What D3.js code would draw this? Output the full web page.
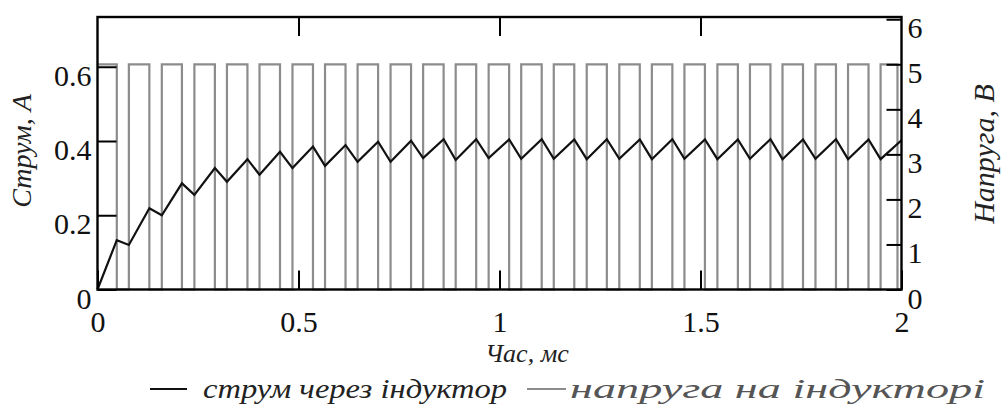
<!DOCTYPE html>
<html>
<head>
<meta charset="utf-8">
<script src="https://cdnjs.cloudflare.com/ajax/libs/d3/7.8.5/d3.min.js"></script>
<style>
    body { margin: 0; background: #fff; }
    svg { display: block; }
</style>
</head>
<body>
<svg id="renderer" width="1002" height="409"></svg>
<script>
// напруга на індукторі: моменти перемикань (мс) і рівні (В)
const voltT = [0, 0.048, 0.078, 0.129, 0.160, 0.210, 0.241, 0.292, 0.322, 0.373, 0.403,
    0.454, 0.485, 0.536, 0.566, 0.617, 0.647, 0.698, 0.729, 0.780, 0.810,
    0.861, 0.891, 0.942, 0.973, 1.024, 1.054, 1.105, 1.135, 1.186, 1.217,
    1.267, 1.298, 1.349, 1.379, 1.430, 1.460, 1.511, 1.542, 1.593, 1.623,
    1.674, 1.704, 1.755, 1.786, 1.837, 1.867, 1.918, 1.948, 1.990, 2.0];
const voltV = [5, 0, 5, 0, 5, 0, 5, 0, 5, 0, 5,
    0, 5, 0, 5, 0, 5, 0, 5, 0, 5,
    0, 5, 0, 5, 0, 5, 0, 5, 0, 5,
    0, 5, 0, 5, 0, 5, 0, 5, 0, 5,
    0, 5, 0, 5, 0, 5, 0, 5, 0, 0];

// струм через індуктор (мс, А)
const curT = [0, 0.048, 0.078, 0.129, 0.160, 0.210, 0.241, 0.292, 0.322, 0.373, 0.403,
    0.454, 0.485, 0.536, 0.566, 0.617, 0.647, 0.698, 0.729, 0.780, 0.810,
    0.861, 0.891, 0.942, 0.973, 1.024, 1.054, 1.105, 1.135, 1.186, 1.217,
    1.267, 1.298, 1.349, 1.379, 1.430, 1.460, 1.511, 1.542, 1.593, 1.623,
    1.674, 1.704, 1.755, 1.786, 1.837, 1.867, 1.918, 1.948, 2.0];
const curA = [0, 0.133, 0.120, 0.219, 0.200, 0.286, 0.255, 0.327, 0.290, 0.351, 0.309,
    0.371, 0.327, 0.385, 0.333, 0.389, 0.344, 0.398, 0.344, 0.401, 0.354,
    0.405, 0.349, 0.405, 0.354, 0.404, 0.352, 0.405, 0.352, 0.404, 0.351,
    0.405, 0.352, 0.404, 0.351, 0.405, 0.352, 0.404, 0.351, 0.404, 0.352,
    0.405, 0.351, 0.404, 0.352, 0.405, 0.351, 0.404, 0.351, 0.402];

const xTicks = [0, 0.5, 1, 1.5, 2];
const yLeftTicks = [0, 0.2, 0.4, 0.6];
const yRightTicks = [0, 1, 2, 3, 4, 5, 6];

const xTitle = 'Час, мс';
const yLeftTitle = 'Струм, А';
const yRightTitle = 'Напруга, В';
const legendNames = ['струм через індуктор', 'напруга на індукторі'];

const LEFT = 97.5, RIGHT = 901.5, TOP = 17, BOTTOM = 289.5;
const TICK = 19;
const CUR_COLOR = '#111';
const VOLT_COLOR = '#8c8c8c';
const SERIF = '"Liberation Serif", "Times New Roman", serif';

const root = d3.select('#renderer');

let x = d3.scaleLinear().domain([0, 2]).range([LEFT, RIGHT]);
let yI = d3.scaleLinear().domain([0, 0.734]).range([BOTTOM, TOP]);
let yV = d3.scaleLinear().domain([0, 6.05]).range([BOTTOM, TOP]);

// напруга
let voltLine = d3.line()
    .x(function (d) { return x(d.t); })
    .y(function (d) { return yV(d.v); })
    .curve(d3.curveStepAfter);

let voltData = voltT.map(function (t, i) { return {t: t, v: voltV[i]}; });

root.append('path')
    .attr('d', voltLine(voltData))
    .attr('fill', 'none')
    .attr('stroke', VOLT_COLOR)
    .attr('stroke-width', 2.2);

// струм
let curLine = d3.line()
    .x(function (d) { return x(d.t); })
    .y(function (d) { return yI(d.a); })
    .curve(d3.curveLinear);

let curData = curT.map(function (t, i) { return {t: t, a: curA[i]}; });

root.append('path')
    .attr('d', curLine(curData))
    .attr('fill', 'none')
    .attr('stroke', CUR_COLOR)
    .attr('stroke-width', 2.2)
    .attr('stroke-linejoin', 'miter');

// осі
function styleAxis(sel) {
    sel.select('.domain').remove();
    sel.selectAll('line').attr('stroke', '#000').attr('stroke-width', 2);
    sel.selectAll('text')
        .attr('fill', '#111')
        .style('font-family', SERIF)
        .style('font-size', '30px');
}

let fmt = function (d) { return d === 0 ? '0' : String(d); };

let gLeft = root.append('g')
    .attr('transform', 'translate(' + LEFT + ',0)')
    .call(d3.axisLeft(yI).tickValues(yLeftTicks).tickSize(-TICK).tickPadding(6).tickFormat(fmt));
styleAxis(gLeft);
gLeft.selectAll('text').attr('dy', null).attr('y', 8).attr('dominant-baseline', 'central');

let gRight = root.append('g')
    .attr('transform', 'translate(' + RIGHT + ',0)')
    .call(d3.axisRight(yV).tickValues(yRightTicks).tickSize(-15).tickPadding(6).tickFormat(fmt));
styleAxis(gRight);
gRight.selectAll('text').attr('dy', null).attr('y', 8).attr('dominant-baseline', 'central');

let gBottom = root.append('g')
    .attr('transform', 'translate(0,' + BOTTOM + ')')
    .call(d3.axisBottom(x).tickValues(xTicks).tickSize(-TICK).tickFormat(fmt));
styleAxis(gBottom);
gBottom.selectAll('text').attr('dy', null).attr('y', 32).attr('dominant-baseline', 'central');

let gTop = root.append('g')
    .attr('transform', 'translate(0,' + TOP + ')')
    .call(d3.axisTop(x).tickValues(xTicks.slice(1, -1)).tickSize(-TICK).tickFormat(''));
styleAxis(gTop);

// рамка
root.append('rect')
    .attr('x', LEFT)
    .attr('y', TOP)
    .attr('width', RIGHT - LEFT)
    .attr('height', BOTTOM - TOP)
    .attr('fill', 'none')
    .attr('stroke', '#000')
    .attr('stroke-width', 2.4);

// підписи осей
root.append('text')
    .attr('transform', 'translate(31,151) rotate(-90)')
    .attr('text-anchor', 'middle')
    .style('font-family', SERIF)
    .style('font-style', 'italic')
    .style('font-size', '28px')
    .attr('fill', '#222')
    .text(yLeftTitle);

root.append('text')
    .attr('transform', 'translate(994,154) rotate(-90)')
    .attr('text-anchor', 'middle')
    .style('font-family', SERIF)
    .style('font-style', 'italic')
    .style('font-size', '30px')
    .attr('fill', '#222')
    .text(yRightTitle);

root.append('text')
    .attr('x', 527)
    .attr('y', 362)
    .attr('text-anchor', 'middle')
    .style('font-family', SERIF)
    .style('font-style', 'italic')
    .style('font-size', '26px')
    .attr('fill', '#222')
    .text(xTitle);

// легенда
let legend = [
    {name: legendNames[0], color: CUR_COLOR, text: '#222', x1: 150, x2: 187, tx: 203, tw: 304},
    {name: legendNames[1], color: VOLT_COLOR, text: '#555', x1: 527, x2: 566, tx: 570, tw: 415}
];

legend.forEach(function (l) {
    root.append('line')
        .attr('x1', l.x1)
        .attr('y1', 389)
        .attr('x2', l.x2)
        .attr('y2', 389)
        .attr('stroke', l.color)
        .attr('stroke-width', 2);
    root.append('text')
        .attr('x', l.tx)
        .attr('y', 398)
        .attr('textLength', l.tw)
        .attr('lengthAdjust', 'spacingAndGlyphs')
        .style('font-family', SERIF)
        .style('font-style', 'italic')
        .style('font-size', '27px')
        .attr('fill', l.text)
        .text(l.name);
});
</script>
</body>
</html>
